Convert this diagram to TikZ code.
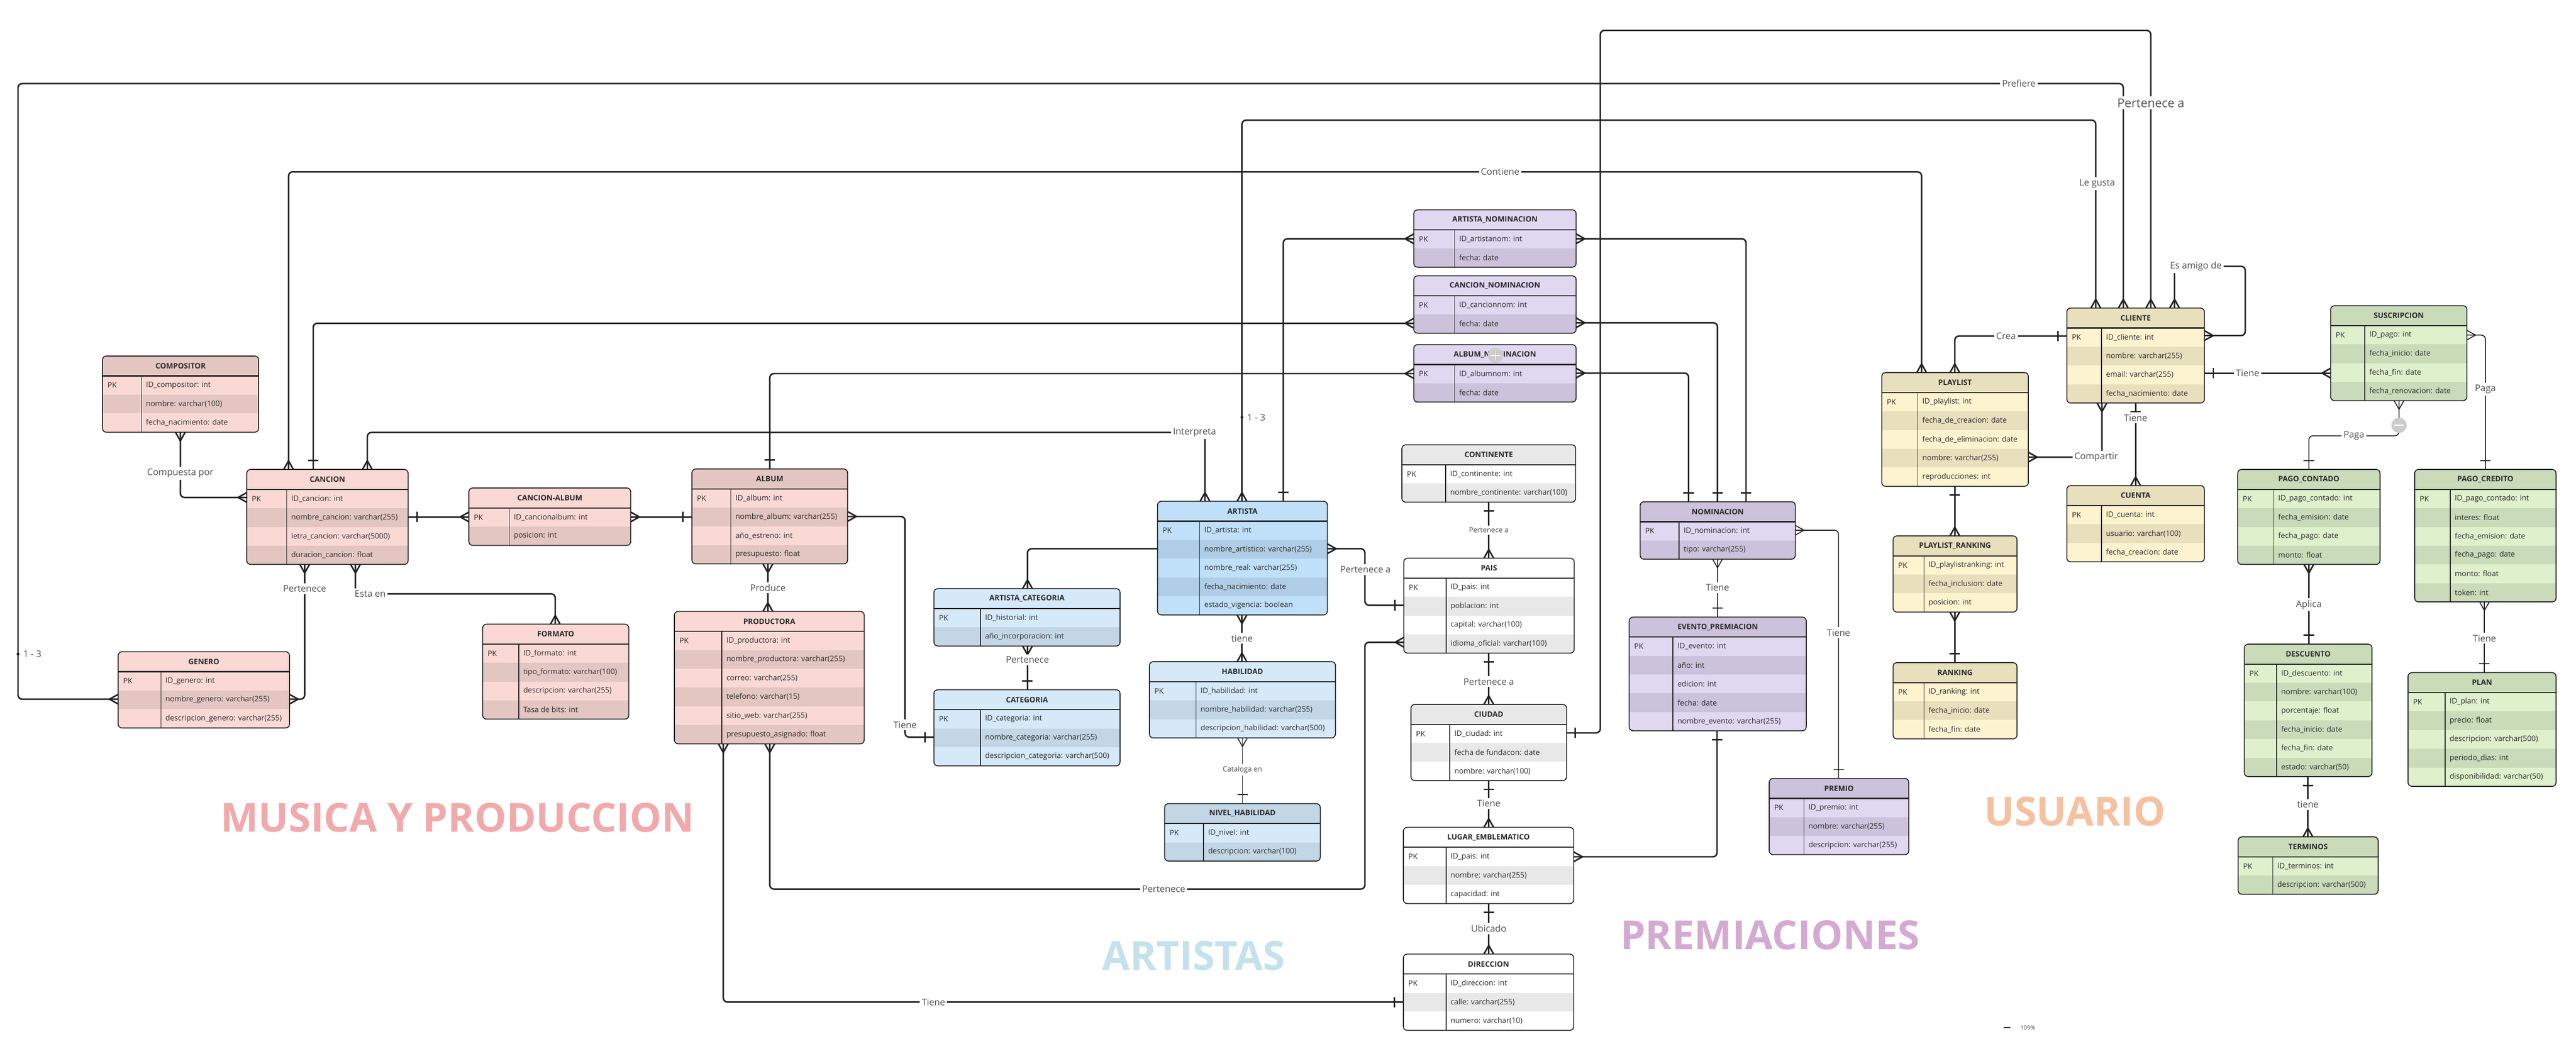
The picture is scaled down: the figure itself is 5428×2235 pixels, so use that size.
\documentclass[tikz,border=0pt]{standalone}
\usepackage{fontspec}
\setmainfont{Open Sans}
\usetikzlibrary{fit}

\definecolor{musL}{HTML}{FAD9D5}
\definecolor{musD}{HTML}{E3C6C2}
\definecolor{artL}{HTML}{BFE0F8}
\definecolor{artD}{HTML}{AFCDE6}
\definecolor{azuL}{HTML}{D5E9F9}
\definecolor{azuD}{HTML}{C3D6E6}
\definecolor{purL}{HTML}{E0D7F0}
\definecolor{purD}{HTML}{CCC2DB}
\definecolor{grisL}{HTML}{FFFFFF}
\definecolor{grisD}{HTML}{E8E8E8}
\definecolor{amaL}{HTML}{FEF3CF}
\definecolor{amaD}{HTML}{E8DFBD}
\definecolor{verL}{HTML}{DEF0CC}
\definecolor{verD}{HTML}{C9DBB9}
\definecolor{linea}{HTML}{222222}
\definecolor{etiq}{HTML}{505050}
\definecolor{texto}{HTML}{2A2A2A}
\definecolor{rosa}{HTML}{F2A9AB}
\definecolor{celeste}{HTML}{C5E2EC}
\definecolor{lila}{HTML}{D4AAD2}
\definecolor{durazno}{HTML}{F5C1A0}

% crow's foot (many) and bar (one)
\pgfdeclarearrow{
  name = crow,
  parameters = {\the\pgflinewidth},
  setup code = {
    \pgfarrowssettipend{0pt}
    \pgfarrowssetlineend{0pt}
    \pgfarrowssetbackend{-5.2pt}
    \pgfarrowshullpoint{0pt}{2.9pt}
    \pgfarrowshullpoint{0pt}{-2.9pt}
    \pgfarrowshullpoint{-5.2pt}{0pt}
  },
  drawing code = {
    \pgfsetroundjoin
    \pgfpathmoveto{\pgfqpoint{0pt}{2.9pt}}
    \pgfpathlineto{\pgfqpoint{-5.2pt}{0pt}}
    \pgfpathlineto{\pgfqpoint{0pt}{-2.9pt}}
    \pgfusepathqstroke
  }
}
\pgfdeclarearrow{
  name = one,
  parameters = {\the\pgflinewidth},
  setup code = {
    \pgfarrowssettipend{0pt}
    \pgfarrowssetlineend{0pt}
    \pgfarrowssetbackend{-5.6pt}
    \pgfarrowshullpoint{-5.6pt}{3.1pt}
    \pgfarrowshullpoint{-5.6pt}{-3.1pt}
    \pgfarrowshullpoint{0pt}{0pt}
  },
  drawing code = {
    \pgfpathmoveto{\pgfqpoint{-5.3pt}{3.1pt}}
    \pgfpathlineto{\pgfqpoint{-5.3pt}{-3.1pt}}
    \pgfusepathqstroke
  }
}

% #1 name, #2 colour group, #3 header fill, #4 left, #5 top, #6 right, #7 divider, #8 title, #9 rows
\newcommand{\entity}[9]{%
  \foreach \txt [count=\k] in {#9} {\xdef\nrows{\k}}
  \pgfmathsetmacro{\ybot}{#5+42+\nrows*39.5}
  \node[fit={(#4,#5) (#6,\ybot)}, inner sep=0pt, outer sep=0pt] (#1) {};
  \begin{scope}
    \clip[rounded corners=2.3pt] (#4,#5) rectangle (#6,\ybot);
    \fill[fill=#3] (#4,#5) rectangle (#6,#5+42);
    \foreach \txt [count=\i] in {#9} {
      \pgfmathsetmacro{\ya}{#5+42+(\i-1)*39.5}
      \ifodd\i\relax\def\relleno{#2L}\else\def\relleno{#2D}\fi
      \fill[fill=\relleno] (#4,\ya) rectangle (#6,\ya+39.5);
    }
  \end{scope}
  \draw[line width=0.7pt, linea] (#4,#5+42) -- (#6,#5+42);
  \draw[line width=0.45pt, linea] (#7,#5+42) -- (#7,\ybot);
  \draw[line width=0.55pt, linea, rounded corners=2.3pt] (#4,#5) rectangle (#6,\ybot);
  \node[titulo] (#1-t) at ({(#4+#6)/2},#5+21) {#8};
  \node[campo] (#1-pk) at (#4+10,#5+61.75) {PK};
  \foreach \txt [count=\i] in {#9} {
    \pgfmathsetmacro{\yc}{#5+42+(\i-0.5)*39.5}
    \node[campo] (#1-f\i) at (#7+9,\yc) {\txt};
  }
}

\begin{document}
\begin{tikzpicture}
  [x=0.01cm, y=-0.01cm,
   campo/.style={anchor=west, inner sep=0pt, text=texto, font=\fontsize{4.5}{5}\selectfont},
   titulo/.style={inner sep=0pt, text=texto, font=\fontsize{4.5}{5}\selectfont\bfseries},
   rel/.style={draw=linea, line width=0.9pt, rounded corners=2.5pt},
   thinrel/.style={rel, line width=0.55pt},
   lbl/.style={fill=white, inner sep=1.2pt, text=etiq, font=\fontsize{5.5}{6}\selectfont},
   lblsmall/.style={lbl, font=\fontsize{4.3}{5}\selectfont},
   lblbig/.style={lbl, font=\fontsize{7.3}{8}\selectfont},
   seccion/.style={inner sep=0pt, font=\fontsize{24}{28}\selectfont\bfseries}]

  \useasboundingbox (0,0) rectangle (5428,2235);
  \fill[white] (0,0) rectangle (5428,2235);

  % MUSICA Y PRODUCCION
  \entity{compositor}{mus}{musD}{216}{750}{545}{298}{COMPOSITOR}{ID\_compositor: int, nombre: varchar(100), fecha\_nacimiento: date}
  \entity{cancion}{mus}{musL}{520}{989}{860}{604}{CANCION}{ID\_cancion: int, nombre\_cancion: varchar(255), letra\_cancion: varchar(5000), duracion\_cancion: float}
  \entity{cancionalbum}{mus}{musL}{988}{1028}{1329}{1073}{CANCION-ALBUM}{ID\_cancionalbum: int, posicion: int}
  \entity{album}{mus}{musD}{1458}{988}{1786}{1540}{ALBUM}{ID\_album: int, nombre\_album: varchar(255), año\_estreno: int, presupuesto: float}
  \entity{genero}{mus}{musL}{249}{1373}{610}{339}{GENERO}{ID\_genero: int, nombre\_genero: varchar(255), descripcion\_genero: varchar(255)}
  \entity{formato}{mus}{musL}{1017}{1315}{1325}{1093}{FORMATO}{ID\_formato: int, tipo\_formato: varchar(100), descripcion: varchar(255), Tasa de bits: int}
  \entity{productora}{mus}{musL}{1421}{1288}{1821}{1521}{PRODUCTORA}{ID\_productora: int, nombre\_productora: varchar(255), correo: varchar(255), telefono: varchar(15), sitio\_web: varchar(255), presupuesto\_asignado: float}

  % ARTISTAS
  \entity{artista}{art}{artL}{2439}{1056}{2797}{2528}{ARTISTA}{ID\_artista: int, nombre\_artístico: varchar(255), nombre\_real: varchar(255), fecha\_nacimiento: date, estado\_vigencia: boolean}
  \entity{artistacategoria}{azu}{azuL}{1968}{1240}{2360}{2066}{ARTISTA\_CATEGORIA}{ID\_historial: int, año\_incorporacion: int}
  \entity{categoria}{azu}{azuL}{1968}{1453}{2360}{2066}{CATEGORIA}{ID\_categoria: int, nombre\_categoria: varchar(255), descripcion\_categoria: varchar(500)}
  \entity{habilidad}{azu}{azuL}{2422}{1394}{2814}{2520}{HABILIDAD}{ID\_habilidad: int, nombre\_habilidad: varchar(255), descripcion\_habilidad: varchar(500)}
  \entity{nivelhabilidad}{azu}{azuD}{2454}{1693}{2782}{2536}{NIVEL\_HABILIDAD}{ID\_nivel: int, descripcion: varchar(100)}

  % PREMIACIONES
  \entity{artistanominacion}{pur}{purL}{2979}{442}{3321}{3065}{ARTISTA\_NOMINACION}{ID\_artistanom: int, fecha: date}
  \entity{cancionnominacion}{pur}{purL}{2979}{581}{3321}{3065}{CANCION\_NOMINACION}{ID\_cancionnom: int, fecha: date}
  \entity{albumnominacion}{pur}{purL}{2979}{726}{3321}{3065}{ALBUM\_NOMINACION}{ID\_albumnom: int, fecha: date}
  \entity{nominacion}{pur}{purD}{3456}{1057}{3783}{3538}{NOMINACION}{ID\_nominacion: int, tipo: varchar(255)}
  \entity{eventopremiacion}{pur}{purD}{3433}{1300}{3806}{3525}{EVENTO\_PREMIACION}{ID\_evento: int, año: int, edicion: int, fecha: date, nombre\_evento: varchar(255)}
  \entity{premio}{pur}{purD}{3728}{1640}{4022}{3801}{PREMIO}{ID\_premio: int, nombre: varchar(255), descripcion: varchar(255)}

  \entity{continente}{gris}{grisD}{2954}{937}{3320}{3046}{CONTINENTE}{ID\_continente: int, nombre\_continente: varchar(100)}
  \entity{pais}{gris}{grisL}{2958}{1176}{3317}{3047}{PAIS}{ID\_pais: int, poblacion: int, capital: varchar(100), idioma\_oficial: varchar(100)}
  \entity{ciudad}{gris}{grisD}{2973}{1484}{3301}{3055}{CIUDAD}{ID\_ciudad: int, fecha de fundacon: date, nombre: varchar(100)}
  \entity{lugaremblematico}{gris}{grisL}{2957}{1743}{3316}{3047}{LUGAR\_EMBLEMATICO}{ID\_pais: int, nombre: varchar(255), capacidad: int}
  \entity{direccion}{gris}{grisL}{2957}{2010}{3316}{3047}{DIRECCION}{ID\_direccion: int, calle: varchar(255), numero: varchar(10)}

  % USUARIO
  \entity{playlist}{ama}{amaD}{3965}{785}{4274}{4041}{PLAYLIST}{ID\_playlist: int, fecha\_de\_creacion: date, fecha\_de\_eliminacion: date, nombre: varchar(255), reproducciones: int}
  \entity{cliente}{ama}{amaD}{4355}{649}{4645}{4428}{CLIENTE}{ID\_cliente: int, nombre: varchar(255), email: varchar(255), fecha\_nacimiento: date}
  \entity{cuenta}{ama}{amaD}{4355}{1023}{4645}{4428}{CUENTA}{ID\_cuenta: int, usuario: varchar(100), fecha\_creacion: date}
  \entity{playlistranking}{ama}{amaD}{3989}{1129}{4250}{4054}{PLAYLIST\_RANKING}{ID\_playlistranking: int, fecha\_inclusion: date, posicion: int}
  \entity{ranking}{ama}{amaD}{3989}{1396}{4250}{4054}{RANKING}{ID\_ranking: int, fecha\_inicio: date, fecha\_fin: date}

  \entity{suscripcion}{ver}{verD}{4911}{644}{5198}{4983}{SUSCRIPCION}{ID\_pago: int, fecha\_inicio: date, fecha\_fin: date, fecha\_renovacion: date}
  \entity{pagocontado}{ver}{verD}{4715}{989}{5015}{4791}{PAGO\_CONTADO}{ID\_pago\_contado: int, fecha\_emision: date, fecha\_pago: date, monto: float}
  \entity{pagocredito}{ver}{verD}{5088}{989}{5386}{5163}{PAGO\_CREDITO}{ID\_pago\_contado: int, interes: float, fecha\_emision: date, fecha\_pago: date, monto: float, token: int}
  \entity{descuento}{ver}{verD}{4729}{1357}{4998}{4797}{DESCUENTO}{ID\_descuento: int, nombre: varchar(100), porcentaje: float, fecha\_inicio: date, fecha\_fin: date, estado: varchar(50)}
  \entity{plan}{ver}{verD}{5074}{1417}{5386}{5152}{PLAN}{ID\_plan: int, precio: float, descripcion: varchar(500), periodo\_dias: int, disponibilidad: varchar(50)}
  \entity{terminos}{ver}{verD}{4716}{1763}{5011}{4789}{TERMINOS}{ID\_terminos: int, descripcion: varchar(500)}

  % relaciones
  \draw[rel,crow-crow] (compositor.south-|380,0) -- (380,1048) -- (cancion.west|-0,1048);
  \draw[rel,crow-crow] (cancion.south-|642,0) -- (642,1473) -- (genero.east|-0,1473);
  \draw[rel,crow-crow] (cancion.south-|749,0) -- (749,1251) -- (1170,1251) -- (formato.north-|1170,0);
  \draw[rel,one-crow] (cancion.east|-0,1089) -- (cancionalbum.west|-0,1089);
  \draw[rel,crow-one] (cancionalbum.east|-0,1089) -- (album.west|-0,1089);
  \draw[rel,crow-one] (album.east|-0,1088) -- (1907,1088) -- (1907,1553) -- (categoria.west|-0,1553);
  \draw[rel,crow-crow] (productora.south-|1622,0) -- (1622,1873) -- (2876,1873) -- (2876,1353) -- (pais.west|-0,1353);
  \draw[rel,crow-one] (productora.south-|1524,0) -- (1524,2111) -- (direccion.west|-0,2111);

  \draw[rel,crow-crow] (cancion.north-|608,0) -- (608,362) -- (4049,362) -- (playlist.north-|4049,0);
  \draw[rel,one-crow] (cancion.north-|660,0) -- (660,681) -- (cancionnominacion.west|-0,681);
  \draw[rel,crow-crow] (cancion.north-|774,0) -- (774,911) -- (2539,911) -- (artista.north-|2539,0);
  \draw[rel,one-crow] (album.north-|1622,0) -- (1622,787) -- (albumnominacion.west|-0,787);
  \draw[rel,one-crow] (artista.north-|2704,0) -- (2704,503) -- (artistanominacion.west|-0,503);
  \draw[rel,crow-crow] (artista.north-|2617,0) -- (2617,253) -- (4416,253) -- (cliente.north-|4416,0);
  \draw[rel,crow-crow] (genero.west|-0,1473) -- (38,1473) -- (38,176) -- (4474,176) -- (cliente.north-|4474,0);
  \draw[rel,one-crow] (ciudad.east|-0,1544) -- (3372,1544) -- (3372,64) -- (4532,64) -- (cliente.north-|4532,0);

  \draw[rel,-crow] (artista.west|-0,1156) -- (2165,1156) -- (artistacategoria.north-|2165,0);
  \draw[rel,crow-one] (artista.east|-0,1156) -- (2876,1156) -- (2876,1275) -- (pais.west|-0,1275);

  \foreach \from/\y/\x in {artistanominacion/503/3679, cancionnominacion/680/3619, albumnominacion/786/3558}
    \draw[rel,crow-one] (\from.east|-0,\y) -- (\x,\y) -- (nominacion.north-|\x,0);
  \draw[rel,crow-one] (lugaremblematico.east|-0,1805) -- (3618,1805) -- (eventopremiacion.south-|3618,0);
  \draw[thinrel,crow-one] (nominacion.east|-0,1117) -- (3874,1117) -- (premio.north-|3874,0);

  \draw[rel,crow-crow] (cliente.north-|4582,0) -- (4582,561) -- (4731,561) -- (4731,707) -- (cliente.east|-0,707);
  \draw[rel,crow-one] (playlist.north-|4119,0) -- (4119,708) -- (cliente.west|-0,708);
  \draw[rel,crow-crow] (playlist.east|-0,963) -- (4429,963) -- (cliente.south-|4429,0);
  \draw[rel,one-crow] (cliente.east|-0,786) -- (suscripcion.west|-0,786);
  \draw[thinrel,crow-one] (suscripcion.south-|5055,0) -- (5055,918) -- (4865,918) -- (pagocontado.north-|4865,0);
  \draw[thinrel,crow-one] (suscripcion.east|-0,706) -- (5237,706) -- (pagocredito.north-|5237,0);

  \foreach \from/\to/\x in {continente/pais/3137, pais/ciudad/3137, ciudad/lugaremblematico/3137, lugaremblematico/direccion/3137, playlist/playlistranking/4119, cliente/cuenta/4500, descuento/terminos/4863}
    \draw[rel,one-crow] (\from.south-|\x,0) -- (\to.north-|\x,0);
  \foreach \from/\to/\x in {playlistranking/ranking/4119, artistacategoria/categoria/2165, pagocontado/descuento/4865}
    \draw[rel,crow-one] (\from.south-|\x,0) -- (\to.north-|\x,0);
  \foreach \from/\to/\x in {nominacion/eventopremiacion/3619, habilidad/nivelhabilidad/2618, pagocredito/plan/5235}
    \draw[thinrel,crow-one] (\from.south-|\x,0) -- (\to.north-|\x,0);
  \foreach \from/\to/\x in {album/productora/1618, artista/habilidad/2617}
    \draw[rel,crow-crow] (\from.south-|\x,0) -- (\to.north-|\x,0);

  % etiquetas
  \node[lbl] (lcompuesta) at (380,997) {Compuesta por};
  \node[lbl] (lpertenece1) at (642,1240) {Pertenece};
  \node[lbl] (lestaen) at (780,1251) {Esta en};
  \node[lbl] (lproduce) at (1618,1238) {Produce};
  \node[lbl] (ltiene1) at (1907,1527) {Tiene};
  \node[lbl] (lpertenece2) at (2452,1873) {Pertenece};
  \node[lbl] (ltiene2) at (1967,2111) {Tiene};
  \node[lbl] (lcontiene) at (3161,362) {Contiene};
  \node[lbl] (linterpreta) at (2517,911) {Interpreta};
  \node[lbl] (llegusta) at (4419,387) {Le gusta};
  \node[lbl] (lprefiere) at (4254,176) {Prefiere};
  \node[lblbig] (lperteneceA) at (4532,217) {Pertenece a};
  \node[lbl] (lamigo) at (4627,561) {Es amigo de};
  \node[lbl] (lcrea) at (4227,708) {Crea};
  \node[lbl] (lcompartir) at (4417,963) {Compartir};
  \node[lbl] (ltiene3) at (4500,880) {Tiene};
  \node[lbl] (ltiene4) at (4736,786) {Tiene};
  \node[lbl] (lpaga1) at (4960,918) {Paga};
  \node[lbl] (lpaga2) at (5237,820) {Paga};
  \node[lbl] (laplica) at (4865,1274) {Aplica};
  \node[lbl] (ltiene5) at (5235,1345) {Tiene};
  \node[lbl] (ltiene6) at (4863,1695) {tiene};
  \node[lbl] (lpertenece3) at (2165,1390) {Pertenece};
  \node[lbl] (ltiene7) at (2617,1345) {tiene};
  \node[lblsmall] (lcataloga) at (2618,1622) {Cataloga en};
  \node[lbl] (lperteneceB) at (2877,1200) {Pertenece a};
  \node[lblsmall] (lperteneceC) at (3137,1117) {Pertenece a};
  \node[lbl] (lperteneceD) at (3137,1436) {Pertenece a};
  \node[lbl] (ltiene8) at (3137,1693) {Tiene};
  \node[lbl] (lubicado) at (3137,1956) {Ubicado};
  \node[lbl] (ltiene9) at (3619,1238) {Tiene};
  \node[lbl] (ltiene10) at (3874,1333) {Tiene};

  \fill[linea] (38,1378) circle[radius=0.03cm];
  \node[lbl, fill=none, anchor=west] (card1) at (44,1378) {1 - 3};
  \fill[linea] (2617,879) circle[radius=0.03cm];
  \node[lbl, fill=none, anchor=west] (card2) at (2623,879) {1 - 3};

  % botones del editor
  \fill[gray!40] (3151,749) circle[radius=0.16cm];
  \draw[white, line width=0.5pt] (3141,749) -- (3161,749) (3151,739) -- (3151,759);
  \fill[gray!40] (5055,896) circle[radius=0.16cm];
  \draw[white, line width=0.6pt] (5045,896) -- (5065,896);
  \draw[linea, line width=0.6pt] (4222,2165) -- (4236,2165);
  \node[inner sep=0pt, text=etiq, font=\fontsize{3.5}{4}\selectfont] (zoomlvl) at (4273,2165) {109\%};

  % secciones
  \node[seccion, text=rosa] (smusica) at (964,1722) {MUSICA Y PRODUCCION};
  \node[seccion, text=celeste] (sartistas) at (2515,2013) {ARTISTAS};
  \node[seccion, text=lila] (spremios) at (3730,1970) {PREMIACIONES};
  \node[seccion, text=durazno] (susuario) at (4372,1709) {USUARIO};

\end{tikzpicture}
\end{document}
